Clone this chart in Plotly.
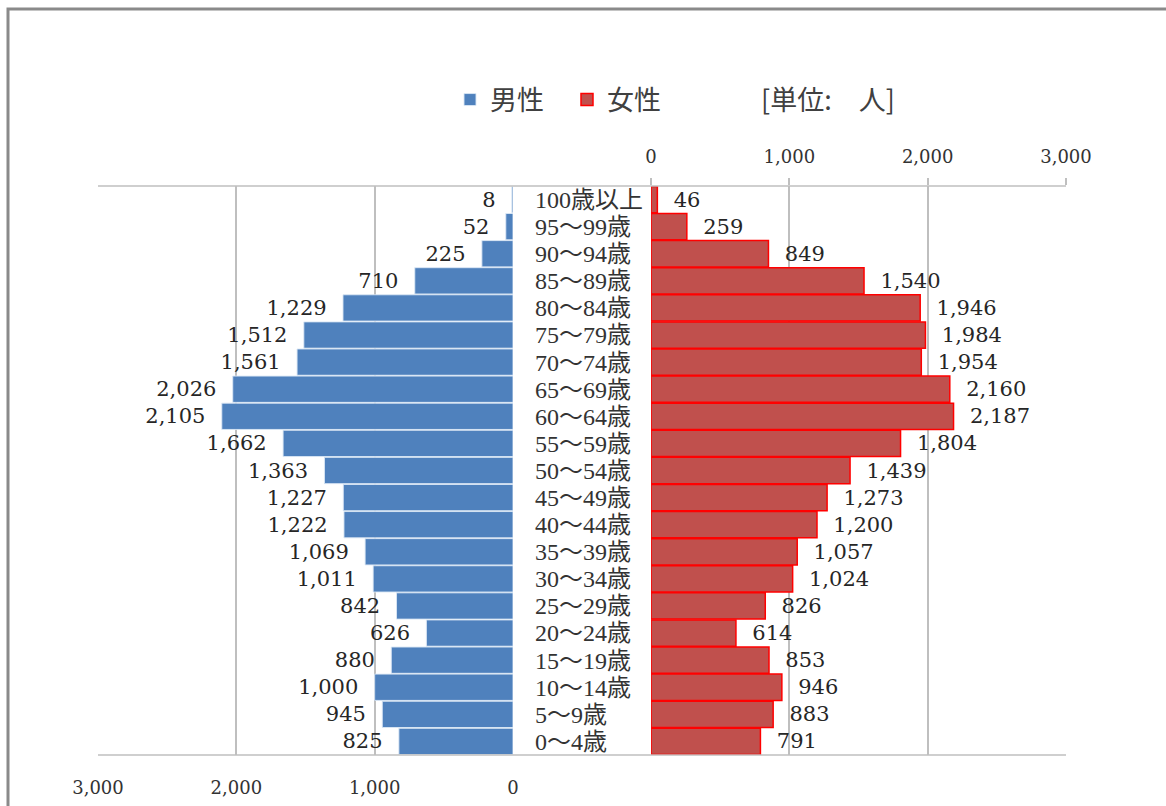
import plotly.graph_objects as go

# Data (top to bottom as in the chart)
age_groups = ["100歳以上", "95～99歳", "90～94歳", "85～89歳", "80～84歳", "75～79歳",
              "70～74歳", "65～69歳", "60～64歳", "55～59歳", "50～54歳", "45～49歳",
              "40～44歳", "35～39歳", "30～34歳", "25～29歳", "20～24歳", "15～19歳",
              "10～14歳", "5～9歳", "0～4歳"]
male = [8, 52, 225, 710, 1229, 1512, 1561, 2026, 2105, 1662, 1363, 1227,
        1222, 1069, 1011, 842, 626, 880, 1000, 945, 825]
female = [46, 259, 849, 1540, 1946, 1984, 1954, 2160, 2187, 1804, 1439, 1273,
          1200, 1057, 1024, 826, 614, 853, 946, 883, 791]
tick_vals = [0, 1000, 2000, 3000]

W, H = 1166, 806
L, R, T, B = 98, 1066, 186, 755
pw, ph = R - L, B - T


def px(x):
    return (x - L) / pw


def py(y):
    return (B - y) / ph


NUM_FONT = "DejaVu Serif"
CJK_FONT = "Noto Sans CJK JP"
GRID = "#BFBFBF"

fig = go.Figure()
fig.add_trace(go.Bar(
    y=age_groups, x=male, orientation="h", name="男性",
    xaxis="x", yaxis="y",
    marker=dict(color="#4F81BD", line=dict(color="rgba(220,232,245,0.9)", width=1)),
    texttemplate="%{x:,}\u00a0\u00a0", textposition="outside", cliponaxis=False,
    textfont=dict(family=NUM_FONT, size=21, color="#262626"),
))
fig.add_trace(go.Bar(
    y=age_groups, x=female, orientation="h", name="女性",
    xaxis="x2", yaxis="y",
    marker=dict(color="#C0504D", line=dict(color="#FF0000", width=1.5)),
    texttemplate="\u00a0\u00a0%{x:,}", textposition="outside", cliponaxis=False,
    textfont=dict(family=NUM_FONT, size=21, color="#262626"),
))

d1 = [0, px(513)]
d2 = [px(651), 1]

fig.update_layout(
    width=W, height=H,
    margin=dict(l=L, r=W - R, t=T, b=H - B, pad=0, autoexpand=False),
    paper_bgcolor="white", plot_bgcolor="white",
    bargap=0.03,
    xaxis=dict(domain=d1, range=[3000, 0], tickvals=tick_vals, tickformat=",",
               showgrid=True, gridcolor=GRID, gridwidth=1.5, zeroline=False,
               side="bottom", anchor="y", ticks="", ticklabelstandoff=20, automargin=False,
               tickfont=dict(family=NUM_FONT, size=18, color="#333333")),
    xaxis2=dict(domain=d2, range=[0, 3000], tickvals=tick_vals, tickformat=",",
                showgrid=True, gridcolor=GRID, gridwidth=1.5, zeroline=False,
                side="top", anchor="y", ticks="outside", ticklen=7, tickcolor=GRID,
                tickwidth=1.5, ticklabelstandoff=8, automargin=False,
                tickfont=dict(family=NUM_FONT, size=18, color="#333333")),
    xaxis3=dict(domain=d1, range=[3000, 0], tickvals=tick_vals, overlaying="x",
                side="top", anchor="y", ticks="outside", ticklen=7, tickcolor=GRID,
                tickwidth=1.5, showticklabels=False, showgrid=False, zeroline=False,
                automargin=False),
    yaxis=dict(type="category", autorange="reversed", side="right", anchor="x",
               tickmode="array", tickvals=age_groups, ticktext=age_groups,
               showgrid=False, ticks="", ticklabelstandoff=21, automargin=False,
               tickfont=dict(family="Liberation Serif, " + CJK_FONT, size=24, color="#333333")),
    legend=dict(orientation="h", x=px(450), xanchor="left", y=py(100), yanchor="middle",
                font=dict(family=CJK_FONT, size=27, color="#404040"),
                itemwidth=30, entrywidth=72, traceorder="normal", bgcolor="rgba(0,0,0,0)"),
    annotations=[dict(text="[単位:　人]", x=px(828), y=py(98), xref="paper", yref="paper",
                      showarrow=False, xanchor="center", yanchor="middle",
                      font=dict(family=CJK_FONT, size=27, color="#404040"))],
    shapes=[
        dict(type="line", xref="paper", yref="paper", x0=0, x1=1, y0=1, y1=1,
             line=dict(color=GRID, width=1.5)),
        dict(type="line", xref="paper", yref="paper", x0=0, x1=1, y0=0, y1=0,
             line=dict(color=GRID, width=1.5)),
        dict(type="rect", xref="paper", yref="paper", x0=px(8), x1=px(1200),
             y0=py(850), y1=py(9), line=dict(color="#8A8A8A", width=3),
             fillcolor="rgba(0,0,0,0)"),
    ],
)

fig.write_html("out.html")
